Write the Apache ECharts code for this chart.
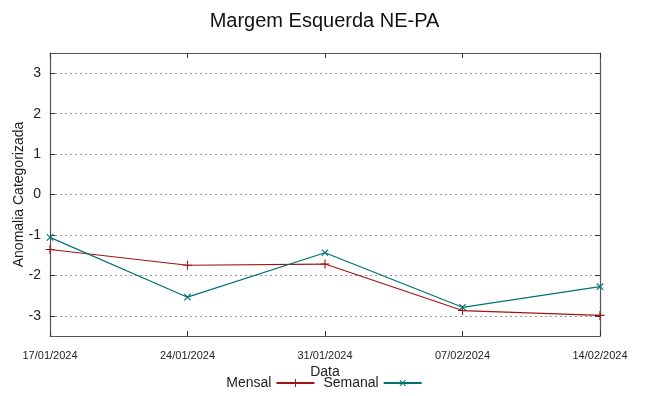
<!DOCTYPE html>
<html>
<head>
<meta charset="utf-8">
<script src="https://cdn.jsdelivr.net/npm/echarts@6/dist/echarts.min.js"></script>
<style>
  html, body { margin: 0; padding: 0; background: #fff; }
  #chart { width: 649px; height: 396px; }
</style>
</head>
<body>
<div id="chart"></div>
<script>
// dados
const datas = ["17/01/2024", "24/01/2024", "31/01/2024", "07/02/2024", "14/02/2024"];
const mensal = [-1.36, -1.75, -1.72, -2.87, -2.99];
const semanal = [-1.06, -2.54, -1.44, -2.79, -2.28];
const yTicks = [-3, -2, -1, 0, 1, 2, 3];

const corMensal = "#a01414";
const corSemanal = "#007272";
const plusPath = "path://M4.4,0H5.6V10H4.4Z M0,4.4H10V5.6H0Z";

const fonte = "Liberation Sans, Arial, sans-serif";
const borda = { show: true, onZero: false, lineStyle: { color: "#555", width: 1.2 } };
const tickDentro = { show: true, inside: true, length: 5, lineStyle: { color: "#333" } };

var chartDom = document.getElementById("chart");
var myChart = echarts.init(chartDom);
var option = {
  animation: false,
  title: {
    text: "Margem Esquerda NE-PA",
    left: "center",
    top: 6,
    textStyle: { fontFamily: fonte, fontSize: 20, fontWeight: "normal", color: "#111" },
  },
  legend: {
    bottom: 1,
    left: "center",
    align: "right",
    itemWidth: 38,
    itemHeight: 10,
    itemGap: 8,
    textStyle: { fontFamily: fonte, fontSize: 14, color: "#222" },
    data: ["Mensal", "Semanal"],
  },
  grid: { left: 50, right: 49, top: 53, bottom: 60, outerBoundsMode: "none" },
  xAxis: [
    {
      type: "category",
      data: datas,
      boundaryGap: false,
      name: "Data",
      nameLocation: "middle",
      nameGap: 29,
      nameMoveOverlap: false,
      nameTextStyle: { fontFamily: fonte, fontSize: 14, color: "#222" },
      axisLine: borda,
      axisTick: tickDentro,
      axisLabel: { fontFamily: fonte, fontSize: 11, color: "#222", margin: 14 },
      splitLine: { show: false },
    },
    {
      type: "category",
      data: datas,
      boundaryGap: false,
      position: "top",
      axisLine: borda,
      axisTick: tickDentro,
      axisLabel: { show: false },
      splitLine: { show: false },
    },
  ],
  yAxis: [
    {
      type: "value",
      min: -3.5,
      max: 3.5,
      name: "Anomalia Categorizada",
      nameLocation: "middle",
      nameGap: 24,
      nameMoveOverlap: false,
      nameTextStyle: { fontFamily: fonte, fontSize: 14, color: "#222" },
      axisLine: borda,
      axisTick: Object.assign({ customValues: yTicks }, tickDentro),
      axisLabel: { fontFamily: fonte, fontSize: 14, color: "#222", margin: 9, customValues: yTicks },
      splitLine: { show: true, lineStyle: { color: "#999", type: [2, 3], width: 1 } },
    },
    {
      type: "value",
      min: -3.5,
      max: 3.5,
      position: "right",
      axisLine: borda,
      axisTick: Object.assign({ customValues: yTicks }, tickDentro),
      axisLabel: { show: false },
      splitLine: { show: false },
    },
  ],
  series: [
    {
      name: "Mensal",
      type: "line",
      data: mensal,
      symbol: plusPath,
      symbolSize: 9,
      lineStyle: { color: corMensal, width: 1.2 },
      itemStyle: { color: corMensal },
    },
    {
      name: "Semanal",
      type: "line",
      data: semanal,
      symbol: plusPath,
      symbolSize: 9,
      symbolRotate: 45,
      lineStyle: { color: corSemanal, width: 1.2 },
      itemStyle: { color: corSemanal },
    },
  ],
};
option && myChart.setOption(option, true);
</script>
</body>
</html>
